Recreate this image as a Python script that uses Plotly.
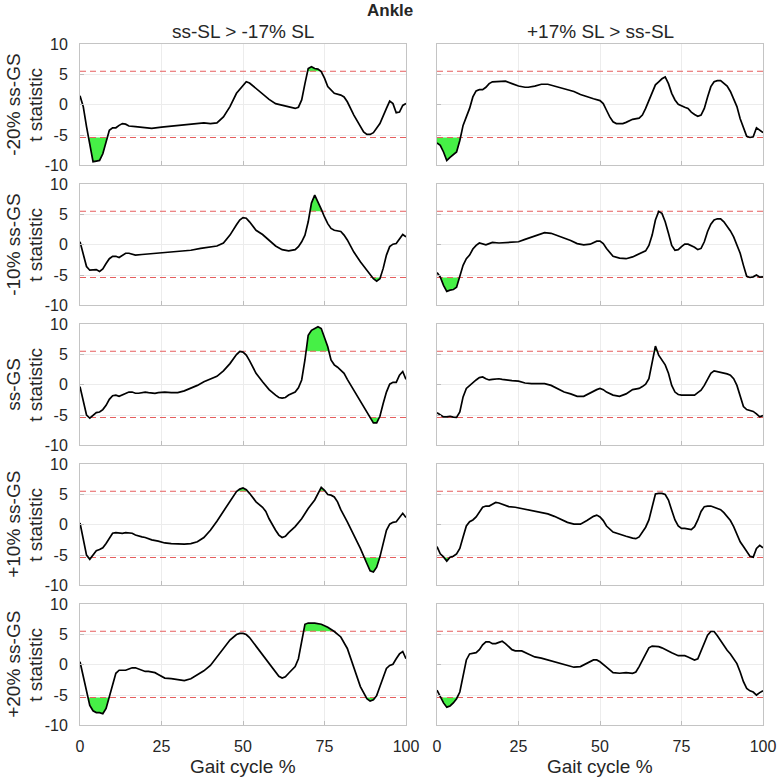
import plotly.graph_objects as go

# ---------------- data ----------------
row_labels = ["-20% ss-GS", "-10% ss-GS", "ss-GS", "+10% ss-GS", "+20% ss-GS"]
col_titles = ["ss-SL > -17% SL", "+17% SL > ss-SL"]
x_ticks = [0, 25, 50, 75, 100]
y_ticks = [-10, -5, 0, 5, 10]
upper_threshold = 5.55
lower_threshold = -5.4

# row 1, left
x_r1_l = [0,1,2,3,4,5,6,7,8,9,10,11,12,13,14,15,17,20,22,25,30,35,38,40,42,44,46,48,50,51,52,54,56,58,60,62,64,66,67,68,69,70,71,72,73,74,75,76,78,80,81,82,84,86,87,88,89,90,92,94,95,96,97,98,99,100]
t_r1_l = [1.5,-0.3,-3.6,-6.4,-9.4,-9.3,-9.2,-8.1,-5.9,-4.2,-3.8,-3.8,-3.4,-3.1,-3.2,-3.5,-3.6,-3.8,-3.9,-3.7,-3.4,-3.1,-3.0,-3.1,-3.0,-2.0,-0.3,1.9,3.3,3.8,3.6,2.7,1.8,0.9,0.2,-0.1,-0.4,-0.6,-0.4,0.8,3.5,6.0,6.3,6.0,5.9,5.5,4.4,3.0,1.9,1.6,1.3,0.5,-1.7,-3.6,-4.5,-4.9,-4.9,-4.6,-3.1,-0.6,0.6,0.2,-1.3,-1.2,-0.1,0.2]
# row 1, right
x_r1_r = [0,1,2,3,4,5,6,7,8,9,10,11,12,13,14,15,16,17,19,21,23,25,27,28,30,32,34,36,38,40,42,44,46,48,50,51,52,53,54,55,56,57,58,60,62,63,64,66,67,68,69,70,71,72,73,74,75,76,77,78,79,80,81,82,83,84,85,86,87,88,89,90,91,92,93,94,95,96,97,98,99,100]
t_r1_r = [-6.3,-6.7,-7.8,-9.2,-8.7,-8.3,-7.8,-5.9,-3.4,-2.0,-0.6,1.3,2.3,2.5,2.5,2.9,3.5,3.8,3.8,3.9,3.5,3.1,2.9,2.9,3.1,3.4,3.4,3.1,2.7,2.4,2.2,1.7,1.3,1.0,0.7,0.2,-0.9,-2.0,-2.8,-3.1,-3.1,-3.1,-2.9,-2.4,-2.2,-1.7,-0.6,2.2,3.3,3.8,4.3,4.6,3.5,1.9,0.8,0.1,-0.2,-0.4,-0.6,-1.2,-1.6,-1.9,-1.7,-0.6,1.3,3.0,3.8,4.0,4.0,3.6,3.1,2.2,1.0,-0.3,-2.3,-3.9,-5.2,-5.4,-5.3,-3.8,-4.2,-4.6]
# row 2, left
x_r2_l = [0,1,2,3,4,5,6,7,8,9,10,11,12,13,14,15,16,17,19,21,23,25,28,31,34,37,40,42,44,46,48,49,50,51,52,54,56,58,60,62,64,66,67,68,69,70,71,72,73,74,75,76,77,78,80,81,82,84,86,88,90,91,92,93,94,95,96,97,98,99,100]
t_r2_l = [0.5,-1.7,-3.6,-4.2,-4.1,-4.1,-4.4,-4.0,-3.1,-2.3,-1.9,-1.9,-2.1,-1.8,-1.4,-1.4,-1.6,-1.7,-1.6,-1.5,-1.4,-1.3,-1.2,-1.1,-0.9,-0.6,-0.4,-0.2,0.3,1.6,3.3,4.1,4.5,4.4,3.8,2.4,1.7,0.8,-0.2,-0.8,-1.0,-0.8,-0.3,0.5,1.6,3.8,6.9,8.2,7.1,5.9,4.6,3.5,2.7,2.4,2.2,1.6,0.8,-1.2,-2.8,-4.3,-5.6,-6.0,-5.6,-3.9,-1.7,-0.3,0.1,0.2,0.9,1.7,1.3]
# row 2, right
x_r2_r = [0,1,2,3,4,5,6,7,8,9,10,11,12,13,14,15,16,17,19,21,23,25,27,29,31,33,35,37,39,41,43,45,47,49,50,51,52,53,54,56,58,60,62,64,65,66,67,68,69,70,71,72,73,74,75,76,77,78,79,80,81,82,83,84,85,86,87,88,89,90,91,92,93,94,95,96,97,98,99,100]
t_r2_r = [-4.6,-5.3,-6.7,-7.7,-7.5,-7.4,-7.0,-5.3,-3.4,-2.3,-1.7,-0.7,-0.1,0.3,0.2,0.0,0.2,0.4,0.3,0.4,0.5,0.5,0.9,1.3,1.7,2.0,1.9,1.5,1.2,0.7,0.2,0.0,0.1,0.6,0.6,0.2,-0.6,-1.3,-1.9,-2.2,-2.3,-2.0,-1.5,-1.0,-0.1,1.6,4.1,5.5,5.2,3.8,1.9,-0.1,-0.9,-0.8,-0.3,0.1,0.1,-0.1,-0.4,-0.8,-0.6,0.5,2.2,3.4,4.1,4.3,4.3,3.8,3.1,2.3,1.3,0.1,-1.4,-3.4,-5.2,-5.4,-5.3,-5.0,-5.35,-5.3]
# row 3, left
x_r3_l = [0,1,2,3,4,5,6,7,8,9,10,11,12,13,14,15,16,17,18,19,20,21,22,23,24,26,28,30,32,34,36,38,40,42,44,46,48,49,50,51,52,54,56,58,60,61,62,63,64,66,67,68,69,70,71,72,73,74,75,76,77,78,79,80,81,82,84,86,88,89,90,91,92,93,94,95,96,97,98,99,100]
t_r3_l = [-0.3,-2.8,-5.0,-5.5,-5.0,-4.6,-4.5,-4.1,-3.4,-2.4,-1.8,-1.7,-1.9,-1.7,-1.4,-1.2,-1.2,-1.4,-1.4,-1.3,-1.2,-1.3,-1.4,-1.4,-1.3,-1.2,-1.3,-1.3,-1.0,-0.6,-0.1,0.5,0.9,1.4,2.3,3.5,5.0,5.5,5.4,4.9,4.0,1.9,0.5,-0.8,-1.7,-2.1,-2.2,-2.1,-1.7,-1.2,-0.5,0.8,4.1,8.2,9.0,9.3,9.6,9.3,7.9,6.3,4.1,3.3,2.9,2.4,1.9,0.9,-0.9,-2.7,-4.3,-5.4,-6.3,-6.3,-5.2,-3.1,-1.2,0.1,0.4,0.4,1.6,2.2,0.9]
# row 3, right
x_r3_r = [0,1,2,3,4,5,6,7,8,9,10,11,12,13,14,15,16,17,18,19,20,21,23,25,27,29,31,33,35,37,39,41,43,45,47,49,50,51,52,54,56,58,60,62,63,64,65,66,67,68,69,70,71,72,73,74,75,76,77,78,79,80,81,82,83,84,85,86,87,88,89,90,91,92,93,94,95,96,97,98,99,100]
t_r3_r = [-4.6,-4.9,-5.3,-5.3,-5.2,-5.35,-5.4,-4.5,-2.0,-0.6,-0.1,0.3,0.8,1.2,1.3,1.0,0.8,0.9,1.0,1.0,0.9,0.8,0.7,0.6,0.3,0.2,0.2,0.2,-0.1,-0.6,-1.2,-1.5,-1.9,-1.9,-1.3,-0.8,-0.6,-0.8,-1.2,-1.7,-1.9,-1.5,-0.8,-0.6,-0.3,0.1,1.0,3.5,6.4,4.9,4.2,3.3,1.9,-0.1,-1.2,-1.6,-1.7,-1.7,-1.8,-1.8,-1.7,-1.3,-0.9,-0.1,1.0,1.9,2.3,2.2,2.1,2.0,1.8,1.6,1.0,-0.1,-2.0,-3.6,-4.1,-4.2,-4.4,-4.8,-5.3,-5.1]
# row 4, left
x_r4_l = [0,1,2,3,4,5,6,7,8,9,10,11,12,13,14,15,16,17,18,19,20,22,24,26,28,30,32,34,36,38,40,42,44,46,48,49,50,51,52,54,56,57,58,60,61,62,63,64,66,68,70,72,73,74,75,76,77,78,79,80,82,84,86,88,89,90,91,92,93,94,95,96,97,98,99,100]
t_r4_l = [0.3,-2.5,-5.0,-5.7,-5.0,-4.3,-4.1,-3.8,-3.1,-2.3,-1.4,-1.3,-1.4,-1.4,-1.3,-1.3,-1.4,-1.7,-1.9,-2.0,-2.1,-2.5,-2.7,-3.0,-3.1,-3.2,-3.2,-3.1,-2.8,-2.1,-0.9,0.6,2.3,4.0,5.5,5.9,6.1,5.8,5.2,3.8,2.9,2.2,1.0,-0.9,-1.7,-2.1,-1.9,-1.3,-0.3,1.0,2.7,4.1,5.2,6.2,5.7,5.0,4.9,4.6,3.8,2.5,0.5,-1.7,-3.9,-6.4,-7.6,-7.8,-7.0,-5.3,-3.1,-0.9,0.1,0.4,0.5,1.3,1.9,1.2]
# row 4, right
x_r4_r = [0,1,2,3,4,5,6,7,8,9,10,11,12,13,14,15,16,17,18,19,20,21,22,24,26,28,30,32,34,36,38,40,42,44,46,48,49,50,51,52,54,56,58,60,61,62,63,64,65,66,67,68,69,70,71,72,73,74,75,76,77,78,79,80,81,82,83,84,85,86,87,88,89,90,91,92,93,94,95,96,97,98,99,100]
t_r4_r = [-3.6,-4.8,-5.3,-6.0,-5.35,-5.2,-4.8,-3.9,-2.0,-0.2,0.5,0.8,1.3,2.2,2.9,3.1,3.1,3.4,3.7,3.6,3.4,3.1,3.0,2.9,2.7,2.4,2.3,2.1,1.8,1.4,0.9,0.4,0.1,0.1,0.7,1.4,1.6,1.3,0.7,-0.2,-1.2,-1.6,-1.9,-2.2,-2.3,-2.0,-1.3,-0.4,0.8,3.0,5.1,5.2,5.2,5.0,4.1,2.4,0.8,-0.2,-0.6,-0.6,-0.7,-0.8,-0.3,0.8,2.2,3.0,3.1,3.1,2.9,2.7,2.5,2.0,1.4,0.7,-0.3,-1.5,-2.8,-3.6,-4.5,-5.2,-5.35,-3.9,-3.4,-3.8]
# row 5, left
x_r5_l = [0,1,2,3,4,5,6,7,8,9,10,11,12,13,14,15,16,17,18,19,20,21,22,23,24,25,26,28,30,32,34,36,38,40,42,44,46,48,49,50,51,52,54,56,58,60,61,62,63,64,66,67,68,69,70,72,74,76,78,80,82,84,86,88,89,90,91,92,93,94,95,96,97,98,99,100]
t_r5_l = [0.5,-2.0,-4.5,-6.7,-7.6,-7.9,-7.9,-8.1,-7.2,-5.2,-3.1,-1.4,-0.9,-0.9,-0.9,-0.7,-0.5,-0.5,-0.7,-1.0,-1.1,-1.1,-1.2,-1.3,-1.6,-1.9,-2.2,-2.3,-2.4,-2.6,-2.3,-1.7,-1.0,-0.1,1.3,2.7,4.1,5.0,5.2,5.2,5.0,4.5,3.1,1.6,0.3,-1.2,-1.9,-2.2,-2.0,-1.4,-0.3,1.0,4.1,6.7,6.9,6.9,6.7,6.2,5.5,4.6,2.7,-0.6,-3.6,-5.6,-6.0,-5.8,-5.1,-3.6,-2.0,-0.6,-0.1,0.1,1.0,1.8,2.2,1.0]
# row 5, right
x_r5_r = [0,1,2,3,4,5,6,7,8,9,10,11,12,13,14,15,16,17,18,19,20,21,22,23,24,26,28,30,32,34,36,38,40,42,44,46,48,49,50,52,54,56,58,60,61,62,63,64,65,66,67,68,69,70,72,74,76,77,78,79,80,81,82,83,84,85,86,87,88,89,90,91,92,93,94,95,96,97,98,99,100]
t_r5_r = [-4.2,-5.3,-6.3,-7.0,-6.8,-6.3,-5.6,-4.5,-2.0,0.8,1.8,1.9,2.0,2.5,3.3,3.8,3.8,3.5,3.5,3.7,3.9,3.5,3.0,2.5,2.3,2.3,1.8,1.3,1.1,0.8,0.5,0.2,-0.2,-0.4,-0.3,0.2,0.8,0.8,0.5,-0.4,-1.3,-1.4,-1.3,-1.4,-1.2,-0.3,0.8,1.9,2.8,3.1,3.1,3.0,2.8,2.5,2.0,1.5,1.5,1.3,1.0,0.8,1.0,2.2,3.5,4.9,5.5,5.5,4.8,4.0,3.1,2.4,1.8,1.0,0.2,-1.2,-2.8,-3.9,-4.3,-4.5,-5.0,-4.6,-4.3]

panels = [
    [(x_r1_l, t_r1_l), (x_r1_r, t_r1_r)],
    [(x_r2_l, t_r2_l), (x_r2_r, t_r2_r)],
    [(x_r3_l, t_r3_l), (x_r3_r, t_r3_r)],
    [(x_r4_l, t_r4_l), (x_r4_r, t_r4_r)],
    [(x_r5_l, t_r5_l), (x_r5_r, t_r5_r)],
]

# ---------------- layout helpers ----------------
W, H = 779, 778
def px(x):
    return x / W
def py(y):
    return 1 - y / H

col_left = [80, 437]
col_width = 326
row_top0 = 44.3
row_pitch = 140
row_height = 121

FONT = "Liberation Sans, Arial, Helvetica, sans-serif"
TXT = "#262626"
GREEN = "rgb(70,240,70)"
RED = "rgb(230,95,95)"


def exceed_polys(x, t, thr, above):
    s = 1 if above else -1
    polys, cur = [], None
    for i in range(len(x)):
        d = s * (t[i] - thr)
        if d > 0:
            if cur is None:
                if i > 0:
                    d0 = s * (t[i - 1] - thr)
                    xc = x[i - 1] + (x[i] - x[i - 1]) * (-d0) / (d - d0)
                    cur = [(xc, thr)]
                else:
                    cur = [(x[0], thr)]
            cur.append((x[i], t[i]))
        else:
            if cur is not None:
                d0 = s * (t[i - 1] - thr)
                xc = x[i - 1] + (x[i] - x[i - 1]) * d0 / (d0 - d)
                cur.append((xc, thr))
                polys.append(cur)
                cur = None
    if cur is not None:
        cur.append((x[-1], thr))
        polys.append(cur)
    return polys


fig = go.Figure()
annotations = []

for r in range(5):
    top = row_top0 + r * row_pitch
    bot = top + row_height
    for c in range(2):
        k = r * 2 + c + 1
        xa = "x" if k == 1 else f"x{k}"
        ya = "y" if k == 1 else f"y{k}"
        xname = "xaxis" if k == 1 else f"xaxis{k}"
        yname = "yaxis" if k == 1 else f"yaxis{k}"
        x, t = panels[r][c]

        # green fills
        fx, fy = [], []
        for thr, above in ((upper_threshold, True), (lower_threshold, False)):
            for poly in exceed_polys(x, t, thr, above):
                fx += [p[0] for p in poly] + [poly[0][0], None]
                fy += [p[1] for p in poly] + [poly[0][1], None]
        if fx:
            fig.add_trace(go.Scatter(x=fx, y=fy, xaxis=xa, yaxis=ya, mode="lines",
                                     fill="toself", fillcolor=GREEN,
                                     line=dict(width=0), hoverinfo="skip",
                                     showlegend=False))
        # threshold lines
        for thr in (upper_threshold, lower_threshold):
            fig.add_trace(go.Scatter(x=[0, 100], y=[thr, thr], xaxis=xa, yaxis=ya,
                                     mode="lines", line=dict(color=RED, width=1.1, dash="6px,4px"),
                                     hoverinfo="skip", showlegend=False))
        # curve
        fig.add_trace(go.Scatter(x=x, y=t, xaxis=xa, yaxis=ya, mode="lines",
                                 line=dict(color="black", width=1.7),
                                 showlegend=False))

        L = col_left[c]
        fig.layout[xname] = dict(
            domain=[px(L), px(L + col_width)], anchor=ya, range=[0, 100],
            tickvals=x_ticks, ticktext=[str(v) for v in x_ticks],
            showticklabels=(r == 4), ticks="inside", ticklen=4, tickcolor="#bdbdbd",
            showline=True, linecolor="#c4c4c4", linewidth=1, mirror=True,
            showgrid=True, gridcolor="#ececec", gridwidth=1, zeroline=False,
            tickfont=dict(size=16, color=TXT, family=FONT), ticklabelstandoff=6,
            automargin=False,
        )
        fig.layout[yname] = dict(
            domain=[py(bot), py(top)], anchor=xa, range=[-10, 10],
            tickvals=y_ticks, ticktext=[str(v) for v in y_ticks],
            showticklabels=(c == 0), ticks="inside", ticklen=4, tickcolor="#bdbdbd",
            showline=True, linecolor="#c4c4c4", linewidth=1, mirror=True,
            showgrid=True, gridcolor="#ececec", gridwidth=1, zeroline=False,
            tickfont=dict(size=16, color=TXT, family=FONT), ticklabelstandoff=8,
            automargin=False,
        )

    # row labels
    cy = py((top + bot) / 2)
    annotations.append(dict(text=row_labels[r], x=px(14), y=cy, xref="paper", yref="paper",
                            showarrow=False, textangle=-90, xanchor="center", yanchor="middle",
                            font=dict(size=19, color=TXT, family=FONT)))
    annotations.append(dict(text="t statistic", x=px(36), y=cy, xref="paper", yref="paper",
                            showarrow=False, textangle=-90, xanchor="center", yanchor="middle",
                            font=dict(size=19, color=TXT, family=FONT)))

# column titles
for c in range(2):
    annotations.append(dict(text=col_titles[c], x=px(col_left[c] + col_width / 2), y=py(32),
                            xref="paper", yref="paper", showarrow=False,
                            xanchor="center", yanchor="middle",
                            font=dict(size=19, color=TXT, family=FONT)))
    annotations.append(dict(text="Gait cycle %", x=px(col_left[c] + col_width / 2), y=py(766),
                            xref="paper", yref="paper", showarrow=False,
                            xanchor="center", yanchor="middle",
                            font=dict(size=19, color=TXT, family=FONT)))

annotations.append(dict(text="<b>Ankle</b>", x=px(390), y=py(10), xref="paper", yref="paper",
                        showarrow=False, xanchor="center", yanchor="middle",
                        font=dict(size=17, color=TXT, family=FONT)))

fig.update_layout(
    width=W, height=H, margin=dict(l=0, r=0, t=0, b=0, pad=0, autoexpand=False),
    paper_bgcolor="white", plot_bgcolor="white",
    annotations=annotations, showlegend=False,
)

fig.write_html(
    "out.html",
    config={"displayModeBar": False},
    post_script="document.body.style.margin='0px';document.body.style.overflow='hidden';",
)
